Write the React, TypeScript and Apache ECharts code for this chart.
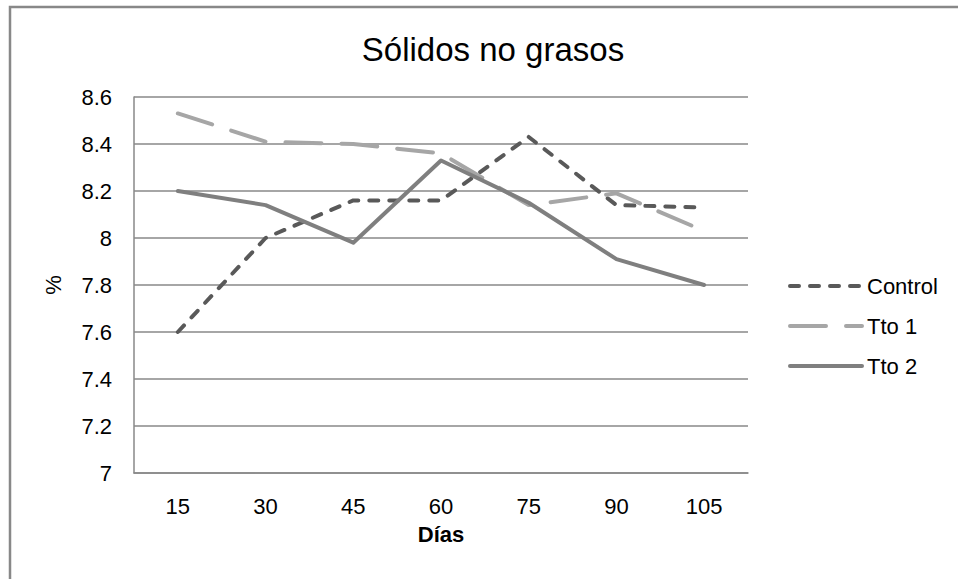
import React, { useEffect, useRef } from "react";
import * as echarts from "echarts";

const days = ["15", "30", "45", "60", "75", "90", "105"];
const control = [7.6, 8.0, 8.16, 8.16, 8.43, 8.14, 8.13];
const tto1 = [8.53, 8.41, 8.4, 8.36, 8.14, 8.19, 8.03];
const tto2 = [8.2, 8.14, 7.98, 8.33, 8.15, 7.91, 7.8];
const seriesNames = ["Control", "Tto 1", "Tto 2"];
const seriesColors = ["#595959", "#a6a6a6", "#7f7f7f"];
const seriesDash: (number[] | "solid")[] = [[9, 11], [36, 20], "solid"];

const FONT = "'Liberation Sans', Arial, sans-serif";

export default function App() {
  const ref = useRef<HTMLDivElement>(null);
  useEffect(() => {
    document.body.style.margin = "0";
    const chart = echarts.init(ref.current!, null, { renderer: "svg" });
    chart.setOption({
      animation: false,
      backgroundColor: "#ffffff",
      textStyle: { fontFamily: FONT },
      title: {
        text: "Sólidos no grasos",
        left: 488,
        top: 28,
        textAlign: "center",
        textStyle: { fontFamily: FONT, fontSize: 33, fontWeight: "normal", color: "#000" },
      },
      graphic: [
        {
          type: "rect",
          shape: { x: 10, y: 7, width: 1200, height: 1000 },
          style: { fill: "none", stroke: "#888888", lineWidth: 2.5 },
          silent: true,
        },
      ],
      legend: {
        orient: "vertical",
        left: 788,
        top: 275,
        padding: 0,
        itemWidth: 72,
        itemHeight: 20,
        itemGap: 18,
        data: seriesNames.map((n, i) => ({
          name: n,
          itemStyle: { opacity: 0 },
          lineStyle: {
            color: seriesColors[i],
            width: 4,
            type: seriesDash[i],
            cap: "round",
            opacity: 1,
          },
        })),
        textStyle: { fontFamily: FONT, fontSize: 22, color: "#000", lineHeight: 20, height: 20 },
      },
      grid: { left: 134, right: 210, top: 97, bottom: 106, containLabel: false },
      xAxis: {
        type: "category",
        data: days,
        boundaryGap: true,
        name: "Días",
        nameLocation: "middle",
        nameGap: 50,
        nameTextStyle: { fontFamily: FONT, fontSize: 22, fontWeight: "bold", color: "#000" },
        axisLine: { lineStyle: { color: "#888888", width: 1.5 } },
        axisTick: { show: false },
        axisLabel: { fontFamily: FONT, fontSize: 22, color: "#000", margin: 22 },
      },
      yAxis: {
        type: "value",
        min: 7,
        max: 8.6,
        interval: 0.2,
        name: "%",
        nameLocation: "middle",
        nameGap: 70,
        nameTextStyle: { fontFamily: FONT, fontSize: 22, color: "#000" },
        axisLine: { show: true, lineStyle: { color: "#888888", width: 1.5 } },
        axisTick: { show: false },
        axisLabel: { fontFamily: FONT, fontSize: 22, color: "#000", margin: 22 },
        splitLine: { lineStyle: { color: "#888888", width: 1.5 } },
      },
      series: [
        {
          name: seriesNames[0],
          type: "line",
          data: control,
          symbol: "none",
          lineStyle: { color: seriesColors[0], width: 4, type: seriesDash[0], cap: "round" },
          itemStyle: { color: seriesColors[0] },
        },
        {
          name: seriesNames[1],
          type: "line",
          data: tto1,
          symbol: "none",
          lineStyle: { color: seriesColors[1], width: 4, type: seriesDash[1], cap: "round" },
          itemStyle: { color: seriesColors[1] },
        },
        {
          name: seriesNames[2],
          type: "line",
          data: tto2,
          symbol: "none",
          lineStyle: { color: seriesColors[2], width: 4, cap: "round", join: "round" },
          itemStyle: { color: seriesColors[2] },
        },
      ],
    });
    return () => chart.dispose();
  }, []);
  return <div ref={ref} style={{ width: 958, height: 579 }} />;
}
